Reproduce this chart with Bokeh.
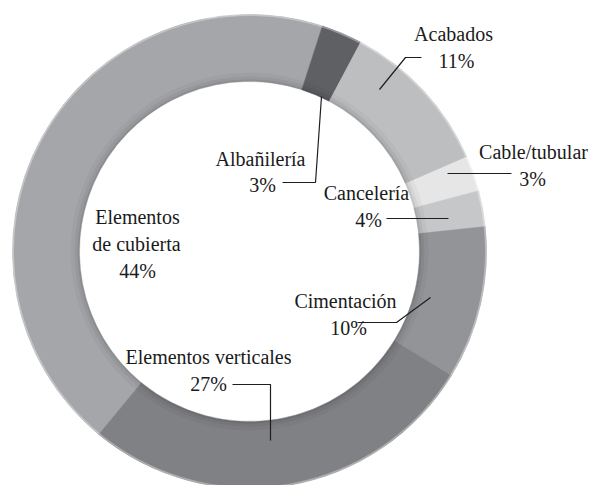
import math
from bokeh.plotting import figure
from bokeh.models import Range1d, ColumnDataSource
from bokeh.core.properties import value
from bokeh.embed import file_html
from bokeh.resources import INLINE

# ---- data ----
categories = ["Elementos de cubierta", "Albañilería", "Acabados", "Cable/tubular",
              "Cancelería", "Cimentación", "Elementos verticales"]
shares = [44.0, 2.8, 10.7, 2.4, 2.45, 10.45, 27.2]          # measured wedge sizes (%)
pct_labels = ["44%", "3%", "11%", "3%", "4%", "10%", "27%"]  # printed labels
colors = ["#a5a6a9", "#5f6064", "#bdbec0", "#e6e6e7", "#c6c7c9", "#939498", "#808185"]

# ---- layout (reference pixel coordinates) ----
W, H = 593, 485
CX, CY = 249, 251
R_OUT, R_IN = 237, 170
START_CW = 219.5  # degrees clockwise from 12 o'clock where the first wedge starts

def X(x):
    return x

def Y(y):
    return 485 - y

label_lines = {
    "Elementos de cubierta": [("Elementos", 137, 216), ("de cubierta", 136, 243), (None, 137, 270)],
    "Albañilería": [("Albañilería", 260, 158), (None, 262, 184)],
    "Acabados": [("Acabados", 453, 33), (None, 456, 60)],
    "Cable/tubular": [("Cable/tubular", 533, 151), (None, 532, 178)],
    "Cancelería": [("Cancelería", 366, 192), (None, 368, 219)],
    "Cimentación": [("Cimentación", 345, 300), (None, 348, 327)],
    "Elementos verticales": [("Elementos verticales", 208, 356), (None, 208, 383)],
}
leaders = {
    "Albañilería": [(282, 182), (315, 182), (321, 96)],
    "Acabados": [(421, 57), (405, 57), (379, 89)],
    "Cable/tubular": [(447, 173), (511, 173)],
    "Cancelería": [(386, 218), (448, 218)],
    "Cimentación": [(357, 322), (396, 322), (430, 297)],
    "Elementos verticales": [(232, 384), (270, 384), (270, 440)],
}

# ---- wedges ----
total = sum(shares)
starts, ends = [], []
acc = START_CW
for s in shares:
    a0 = acc
    a1 = acc + s / total * 360.0
    starts.append(math.radians(90 - a0))
    ends.append(math.radians(90 - a1))
    acc = a1

src = ColumnDataSource(dict(cat=categories, start=starts, end=ends, color=colors))

p = figure(width=W, height=H, output_backend="svg", toolbar_location=None,
           x_range=Range1d(0, W), y_range=Range1d(0, H),
           min_border=0)
p.axis.visible = False
p.grid.visible = False
p.outline_line_color = None
p.background_fill_color = "white"

p.annular_wedge(x=X(CX), y=Y(CY), inner_radius=R_IN, outer_radius=R_OUT,
                start_angle="start", end_angle="end", direction="clock",
                fill_color="color", line_color="color", line_width=0.5, source=src)

# subtle shading along the inner rim
for w, a in [(2, 0.07), (5, 0.05), (9, 0.03)]:
    p.annulus(x=X(CX), y=Y(CY), inner_radius=R_IN, outer_radius=R_IN + w,
              fill_color="black", fill_alpha=a, line_color=None)
# soft outer rim
p.annulus(x=X(CX), y=Y(CY), inner_radius=R_OUT - 1.5, outer_radius=R_OUT,
          fill_color="white", fill_alpha=0.35, line_color=None)

# ---- leader lines ----
for cat, pts in leaders.items():
    p.line([X(a) for a, b in pts], [Y(b) for a, b in pts], line_color="#1e1e1e", line_width=1.2)

# ---- labels ----
tx, ty, tt = [], [], []
for cat, pct in zip(categories, pct_labels):
    for txt, x, y in label_lines[cat]:
        tx.append(X(x))
        ty.append(Y(y))
        tt.append(pct if txt is None else txt)

p.text(x=tx, y=ty, text=tt, text_align="center", text_baseline="middle",
       text_font=value("Liberation Serif"), text_font_size="20px", text_color="#1a1a1a")

open("out.html", "w").write(file_html(p, INLINE))
